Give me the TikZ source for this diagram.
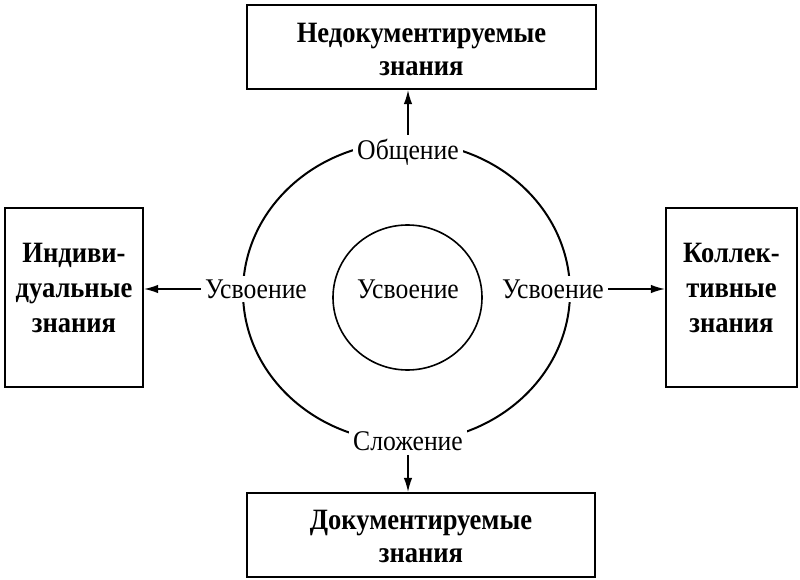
\documentclass[tikz,border=0pt]{standalone}
\usepackage{fontspec}
\setmainfont{Liberation Serif}[FakeStretch=0.9]
\usetikzlibrary{arrows.meta}

\begin{document}
\begin{tikzpicture}[x=1pt, y=1pt,
    knbox/.style={draw, line width=2.3pt, inner sep=0pt},
    kntext/.style={font=\fontsize{29.5}{31}\bfseries\selectfont, align=center, inner sep=0pt},
    proc/.style={font=\fontsize{28.5}{30}\selectfont, fill=white, inner sep=4pt},
    flow/.style={line width=1.3pt, -{Latex[length=14pt, width=8.5pt]}}]
    \useasboundingbox (0,0) rectangle (800,579);

    % Circles
    \draw[line width=2pt] (406.5,287) ellipse [x radius=163.5, y radius=150];
    \draw[line width=1.6pt] (407.5,281.5) ellipse [x radius=74.5, y radius=72.5];

    % Boxes
    \node[knbox, minimum width=349, minimum height=84] (undoc) at (421.5,532) {};
    \node[knbox, minimum width=348, minimum height=84] (doc) at (421,44) {};
    \node[knbox, minimum width=138, minimum height=179] (indiv) at (74,281.5) {};
    \node[knbox, minimum width=131, minimum height=179] (coll) at (731.5,281.5) {};

    \node[kntext] (undoctext) at ([yshift=-2pt]undoc.center) {Недокументируемые\\[2pt]знания};
    \node[kntext] (doctext) at ([yshift=-1pt]doc.center) {Документируемые\\[2pt]знания};
    \node[kntext] (indivtext) at ([yshift=10pt]indiv.center) {Индиви-\\[4pt]дуальные\\[4pt]знания};
    \node[kntext] (colltext) at ([yshift=10pt]coll.center) {Коллек-\\[4pt]тивные\\[4pt]знания};

    % Labels
    \node[proc] (talk) at (408,427) {Общение};
    \node[proc] (sum) at (408,138) {Сложение};
    \node[proc] (leftin) at (256,290) {Усвоение};
    \node[proc] (rightin) at (553,290) {Усвоение};
    \node[proc, fill=none] (mid) at (408,290) {Усвоение};

    % Arrows
    \draw[flow] (talk.north) -- (talk.north |- undoc.south);
    \draw[flow] (sum.south) -- (sum.south |- doc.north);
    \draw[flow] (leftin.west) -- (leftin.west -| indiv.east);
    \draw[flow] (rightin.east) -- (rightin.east -| coll.west);
\end{tikzpicture}
\end{document}
